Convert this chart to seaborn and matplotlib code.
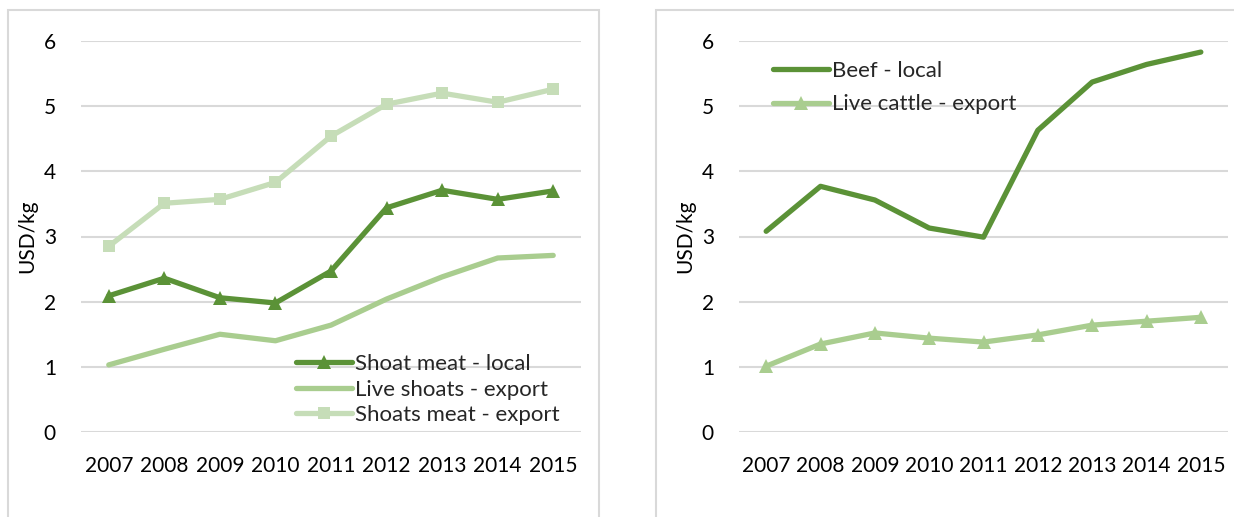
import matplotlib
matplotlib.use("Agg")
import matplotlib.pyplot as plt
from matplotlib.patches import Rectangle
import seaborn as sns

sns.set_theme(style="white")
plt.rcParams["font.family"] = ["Lato", "DejaVu Sans"]

years = [2007, 2008, 2009, 2010, 2011, 2012, 2013, 2014, 2015]

# Shoats (USD/kg)
shoat_meat_local = [2.09, 2.36, 2.06, 1.98, 2.47, 3.44, 3.71, 3.57, 3.70]
live_shoats_export = [1.03, 1.27, 1.50, 1.40, 1.64, 2.04, 2.38, 2.67, 2.71]
shoats_meat_export = [2.85, 3.51, 3.57, 3.83, 4.54, 5.03, 5.20, 5.06, 5.26]

# Cattle (USD/kg)
beef_local = [3.08, 3.77, 3.56, 3.13, 2.99, 4.63, 5.37, 5.64, 5.83]
live_cattle_export = [1.01, 1.35, 1.52, 1.44, 1.38, 1.49, 1.64, 1.70, 1.76]

y_ticks = [0, 1, 2, 3, 4, 5, 6]

DARK = "#5b9237"
MID = "#a9cd8f"
LIGHT = "#c6ddb8"
GRID = "#d9d9d9"
FS = 15
FS_LEG = 16

W, H = 1234, 517
fig = plt.figure(figsize=(W / 100, H / 100), dpi=100)

# panel frames
for (x0, x1) in [(8, 599), (656, 1260)]:
    fig.patches.append(Rectangle((x0 / W, -0.1), (x1 - x0) / W, 1.1 - 10 / H,
                                 transform=fig.transFigure, fill=False,
                                 edgecolor=GRID, linewidth=1.5, zorder=0))

ax1 = fig.add_axes([81 / W, 1 - 432 / H, 500 / W, (432 - 41) / H])
ax2 = fig.add_axes([739 / W, 1 - 432 / H, 489 / W, (432 - 41) / H])

lw = 3.8
sns.lineplot(x=years, y=shoat_meat_local, ax=ax1, color=DARK, linewidth=lw,
             marker="^", markersize=10, markeredgewidth=0, label="Shoat meat - local")
sns.lineplot(x=years, y=live_shoats_export, ax=ax1, color=MID, linewidth=lw,
             label="Live shoats - export")
sns.lineplot(x=years, y=shoats_meat_export, ax=ax1, color=LIGHT, linewidth=lw,
             marker="s", markersize=9, markeredgewidth=0, label="Shoats meat - export")

sns.lineplot(x=years, y=beef_local, ax=ax2, color=DARK, linewidth=lw,
             label="Beef - local")
sns.lineplot(x=years, y=live_cattle_export, ax=ax2, color=MID, linewidth=lw,
             marker="^", markersize=10, markeredgewidth=0, label="Live cattle - export")

for ax in (ax1, ax2):
    ax.set_xlim(2006.5, 2015.5)
    ax.set_ylim(0, 6)
    ax.set_yticks(y_ticks)
    ax.set_xticks(years)
    ax.set_xticklabels([str(y) for y in years])
    ax.grid(axis="y", color=GRID, linewidth=1.5)
    ax.set_axisbelow(True)
    for s in ax.spines.values():
        s.set_visible(False)
    ax.tick_params(axis="y", length=0, pad=18, labelsize=FS, labelcolor="black")
    ax.tick_params(axis="x", length=0, pad=17, labelsize=FS, labelcolor="black")
    ax.set_ylabel("USD/kg", fontsize=FS, color="black", labelpad=5)
    ax.set_xlabel("")
    ax.patch.set_alpha(0)
    for ln in ax.get_lines():
        ln.set_clip_on(False)
        ln.set_solid_capstyle("round")

leg_kw = dict(frameon=False, fontsize=FS_LEG, handlelength=2.5, handletextpad=0.15,
              borderaxespad=0, borderpad=0)
ax1.legend(loc="upper left", bbox_to_anchor=((296 - 81) / 500, (432 - 354) / 391),
           labelspacing=0.25, **leg_kw)
ax2.legend(loc="upper left", bbox_to_anchor=((773 - 739) / 489, (432 - 61) / 391),
           labelspacing=0.6, **leg_kw)

fig.savefig("out.png", dpi=100, facecolor="white")
